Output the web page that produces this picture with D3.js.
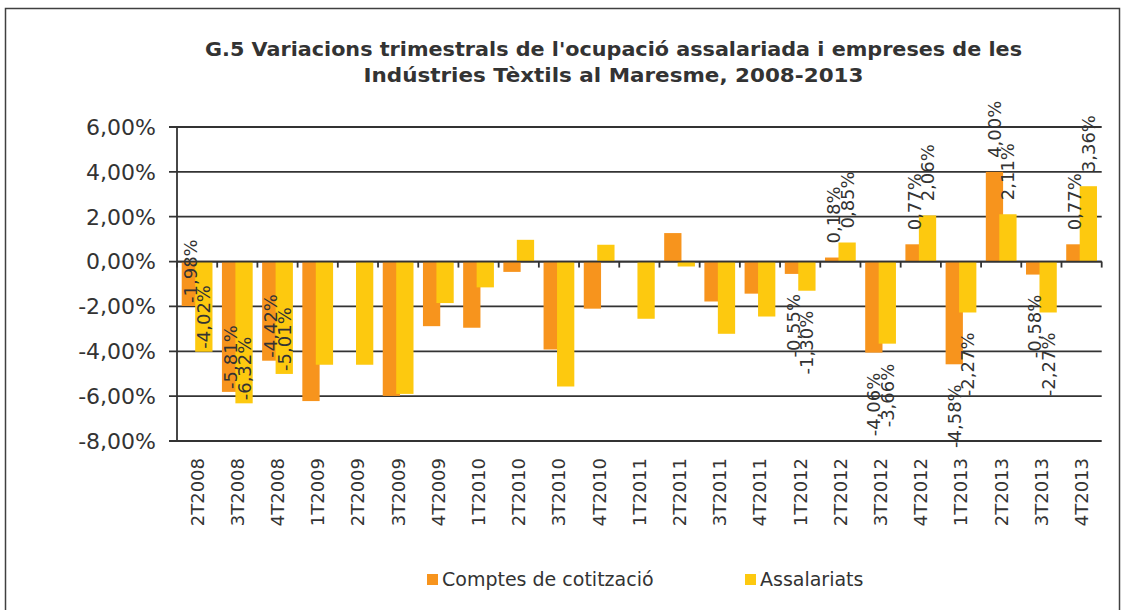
<!DOCTYPE html>
<html>
<head>
<meta charset="utf-8">
<script src="https://cdn.jsdelivr.net/npm/d3@7"></script>
<style>
  html, body { margin: 0; padding: 0; background: #fff; }
  svg { display: block; font-family: "DejaVu Sans", Verdana, sans-serif; }
</style>
</head>
<body>
<div id="chart"></div>
<script>
// quarters on the category axis
const categories = ["2T2008", "3T2008", "4T2008", "1T2009", "2T2009", "3T2009", "4T2009",
  "1T2010", "2T2010", "3T2010", "4T2010", "1T2011", "2T2011", "3T2011", "4T2011",
  "1T2012", "2T2012", "3T2012", "4T2012", "1T2013", "2T2013", "3T2013", "4T2013"];

// quarterly variation, %
const comptes = [-1.98, -5.81, -4.42, -6.22, 0, -5.99, -2.88, -2.95, -0.46, -3.92, -2.1,
  0, 1.27, -1.78, -1.43, -0.55, 0.18, -4.06, 0.77, -4.58, 4.00, -0.58, 0.77];
const assalariats = [-4.02, -6.32, -5.01, -4.6, -4.6, -5.9, -1.85, -1.15, 0.97, -5.57, 0.75,
  -2.55, -0.22, -3.22, -2.45, -1.30, 0.85, -3.66, 2.06, -2.27, 2.11, -2.27, 3.36];

const seriesNames = ["Comptes de cotització", "Assalariats"];
const yTicks = [-8, -6, -4, -2, 0, 2, 4, 6];

// which quarters carry data labels, and which of those sit inside the bar
const labelledCats = ["2T2008", "3T2008", "4T2008", "1T2012", "2T2012", "3T2012",
  "4T2012", "1T2013", "2T2013", "3T2013", "4T2013"];
const insideLabelCats = ["2T2008", "3T2008", "4T2008"];

const titleLines = ["G.5 Variacions trimestrals de l'ocupació assalariada i empreses de les",
  "Indústries Tèxtils al Maresme, 2008-2013"];

const colors = ["#F7941D", "#FDC90F"];
const dark = "#333333";

const width = 1126, height = 610;
const plot = { left: 177, right: 1101.7, top: 127, bottom: 441 };

const svg = d3.select("#chart").append("svg")
  .attr("width", width)
  .attr("height", height);

svg.append("rect")
  .attr("width", width).attr("height", height)
  .attr("fill", "#fff");

// outer chart border
svg.append("rect")
  .attr("x", 5.5).attr("y", 8.5)
  .attr("width", 1114).attr("height", 640)
  .attr("fill", "none")
  .attr("stroke", "#404040")
  .attr("stroke-width", 1.5);

// title
svg.append("g").selectAll("text")
  .data(titleLines)
  .enter().append("text")
  .attr("x", 613.5)
  .attr("y", (d, i) => 56 + i * 26)
  .attr("text-anchor", "middle")
  .attr("font-weight", "bold")
  .attr("font-size", 20)
  .attr("fill", dark)
  .attr("textLength", (d, i) => i === 0 ? 817 : 500)
  .attr("lengthAdjust", "spacingAndGlyphs")
  .text(d => d);

const x = d3.scaleBand()
  .domain(categories)
  .range([plot.left, plot.right])
  .padding(0);

const y = d3.scaleLinear()
  .domain([-8, 6])
  .range([plot.bottom, plot.top]);

const bw = x.bandwidth();
const barW = bw * 0.43;
const groupW = bw * 0.765;
const barX = [0, groupW - barW];   // yellow overlaps the orange a little

// gridlines
svg.append("g").selectAll("line")
  .data(yTicks)
  .enter().append("line")
  .attr("x1", plot.left - 8)
  .attr("x2", plot.right)
  .attr("y1", d => y(d))
  .attr("y2", d => y(d))
  .attr("stroke", dark)
  .attr("stroke-width", 1.8);

// y tick labels
svg.append("g").selectAll("text")
  .data(yTicks)
  .enter().append("text")
  .attr("x", 156)
  .attr("y", d => y(d))
  .attr("dy", "0.36em")
  .attr("text-anchor", "end")
  .attr("font-size", 22)
  .attr("fill", dark)
  .text(d => d.toFixed(2).replace(".", ",") + "%");

// bars
const series = [comptes, assalariats];
series.forEach((vals, s) => {
  svg.append("g").selectAll("rect")
    .data(categories.map((c, i) => ({ cat: c, v: vals[i] })))
    .enter().append("rect")
    .attr("x", d => x(d.cat) + (bw - groupW) / 2 + barX[s])
    .attr("width", barW)
    .attr("y", d => y(Math.max(0, d.v)))
    .attr("height", d => Math.abs(y(d.v) - y(0)))
    .attr("fill", colors[s]);
});

// value axis line and category axis line at zero
svg.append("line")
  .attr("x1", plot.left).attr("x2", plot.left)
  .attr("y1", plot.top).attr("y2", plot.bottom)
  .attr("stroke", dark).attr("stroke-width", 1.8);

svg.append("line")
  .attr("x1", plot.left).attr("x2", plot.right)
  .attr("y1", y(0)).attr("y2", y(0))
  .attr("stroke", dark).attr("stroke-width", 1.8);

// category tick marks on the zero line
const tickPos = categories.map(c => x(c)).concat([plot.right]);
svg.append("g").selectAll("line")
  .data(tickPos)
  .enter().append("line")
  .attr("x1", d => d).attr("x2", d => d)
  .attr("y1", y(0)).attr("y2", y(0) + 6)
  .attr("stroke", dark).attr("stroke-width", 1.8);

// category labels, rotated
svg.append("g").selectAll("text")
  .data(categories)
  .enter().append("text")
  .attr("transform", d => "translate(" + (x(d) + bw / 2) + "," + 458 + ") rotate(-90)")
  .attr("dy", "0.36em")
  .attr("text-anchor", "end")
  .attr("font-size", 18)
  .attr("fill", dark)
  .text(d => d);

// data labels
series.forEach((vals, s) => {
  const pts = categories.map((c, i) => ({ cat: c, v: vals[i] }))
    .filter(d => labelledCats.includes(d.cat));

  svg.append("g").selectAll("text")
    .data(pts)
    .enter().append("text")
    .attr("transform", d => {
      const cx = x(d.cat) + (bw - groupW) / 2 + barX[s] + barW / 2;
      let ty;
      if (d.v >= 0) ty = y(d.v) - 14;
      else if (insideLabelCats.includes(d.cat)) ty = y(d.v) - 3;
      else ty = y(d.v) + 20;
      return "translate(" + cx + "," + ty + ") rotate(-90)";
    })
    .attr("dy", "0.36em")
    .attr("text-anchor", d => (d.v < 0 && !insideLabelCats.includes(d.cat)) ? "end" : "start")
    .attr("font-size", 18)
    .attr("fill", dark)
    .text(d => d.v.toFixed(2).replace(".", ",") + "%");
});

// legend
const legendX = [427, 745];
const legend = svg.append("g").selectAll("g")
  .data(seriesNames)
  .enter().append("g")
  .attr("transform", (d, i) => "translate(" + legendX[i] + ",574)");

legend.append("rect")
  .attr("width", 11).attr("height", 11)
  .attr("fill", (d, i) => colors[i]);

legend.append("text")
  .attr("x", 15)
  .attr("y", 12)
  .attr("font-size", 19)
  .attr("fill", dark)
  .text(d => d);
</script>
</body>
</html>
